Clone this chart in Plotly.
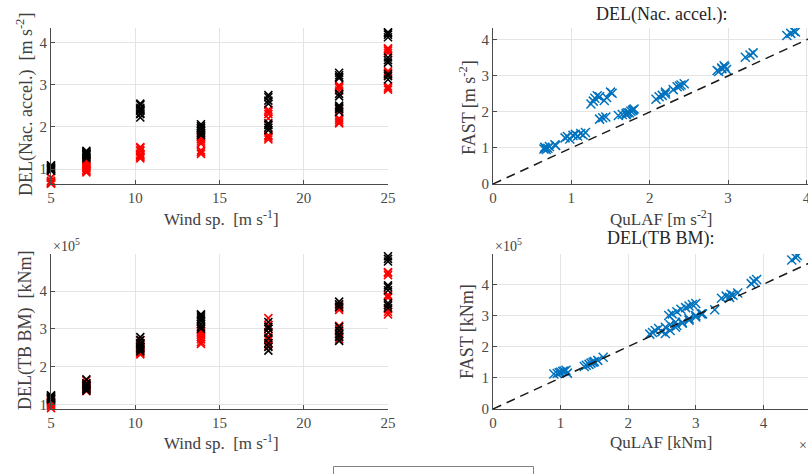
import plotly.graph_objects as go

# ---------------- data ----------------
WIND = [5, 7.1, 10.3, 13.9, 17.9, 22.1, 25]

# DEL of nacelle acceleration [m s^-2], paired samples per wind speed
NAC_FAST = [
    [0.97, 1.00, 0.96, 0.99, 1.02, 1.07, 1.09, 1.04],
    [1.28, 1.32, 1.25, 1.35, 1.38, 1.33, 1.40, 1.36, 1.43],
    [2.22, 2.30, 2.38, 2.45, 2.42, 2.32, 2.40, 2.55, 2.52],
    [1.80, 1.84, 1.86, 1.90, 1.93, 1.96, 1.98, 2.02, 2.06],
    [1.92, 1.98, 2.04, 2.08, 2.55, 2.62, 2.70, 2.75],
    [2.35, 2.42, 2.46, 2.50, 2.72, 2.78, 3.15, 3.22, 3.28, 3.18],
    [3.12, 3.20, 3.25, 3.52, 3.58, 3.64, 4.12, 4.18, 4.24, 4.22],
]
NAC_QULAF = [
    [0.65, 0.67, 0.68, 0.70, 0.66, 0.80, 0.79, 0.72],
    [0.92, 0.95, 0.98, 1.02, 1.05, 1.08, 1.12, 1.15, 1.18],
    [1.25, 1.28, 1.30, 1.33, 1.36, 1.42, 1.45, 1.50, 1.52],
    [1.36, 1.40, 1.44, 1.60, 1.65, 1.70, 1.72, 1.76, 1.79],
    [1.70, 1.74, 1.78, 1.80, 2.20, 2.30, 2.35, 2.40],
    [2.08, 2.12, 2.16, 2.20, 2.38, 2.44, 2.86, 2.92, 2.95, 2.98],
    [2.88, 2.92, 2.96, 3.22, 3.28, 3.32, 3.75, 3.80, 3.84, 3.86],
]

# DEL of tower-base bending moment [x 10^5 kNm]
TB_FAST = [
    [1.12, 1.14, 1.16, 1.18, 1.20, 1.22, 1.24, 1.15],
    [1.36, 1.40, 1.43, 1.47, 1.50, 1.52, 1.56, 1.66],
    [2.40, 2.45, 2.52, 2.58, 2.48, 2.62, 2.70, 2.78],
    [3.00, 3.05, 3.12, 3.20, 3.25, 3.30, 3.35, 3.38],
    [2.42, 2.52, 2.62, 2.75, 2.90, 3.00, 3.05, 3.18],
    [2.68, 2.78, 2.85, 2.95, 3.05, 3.58, 3.65, 3.72],
    [3.55, 3.62, 3.68, 4.02, 4.10, 4.15, 4.78, 4.85, 4.92],
]
TB_QULAF = [
    [0.90, 0.95, 0.98, 1.00, 1.03, 1.05, 1.08, 1.10],
    [1.35, 1.38, 1.42, 1.45, 1.48, 1.50, 1.55, 1.63],
    [2.32, 2.36, 2.40, 2.45, 2.50, 2.55, 2.62, 2.70],
    [2.60, 2.65, 2.72, 2.78, 2.85, 2.90, 2.95, 3.00],
    [2.55, 2.62, 2.70, 2.80, 2.90, 3.00, 3.10, 3.28],
    [2.72, 2.80, 2.90, 3.00, 3.08, 3.50, 3.55, 3.62],
    [3.38, 3.45, 3.52, 3.82, 3.86, 3.90, 4.42, 4.48, 4.50],
]

ONE_TO_ONE = [0, 6]

# ---------------- helpers ----------------
def flat(groups):
    return [v for g in groups for v in g]

def wind_rep(groups):
    return [w for w, g in zip(WIND, groups) for _ in g]

FONT = "Liberation Serif"
AXC = "#4a4a4a"
GRID = "#e4e4e4"
RED = "#ff0000"
BLACK = "#000000"
BLUE = "#0072BD"

def mk(color, size=8, lw=1.6):
    return dict(symbol="x-thin", size=size, color=color,
                line=dict(color=color, width=lw))

fig = go.Figure()

# top-left
fig.add_trace(go.Scatter(x=wind_rep(NAC_QULAF), y=flat(NAC_QULAF), mode="markers",
                         marker=mk(RED), name="QuLAF", legendrank=2,
                         xaxis="x", yaxis="y", cliponaxis=False))
fig.add_trace(go.Scatter(x=wind_rep(NAC_FAST), y=flat(NAC_FAST), mode="markers",
                         marker=mk(BLACK), name="FAST", legendrank=1,
                         xaxis="x", yaxis="y", cliponaxis=False))
# top-right
fig.add_trace(go.Scatter(x=flat(NAC_QULAF), y=flat(NAC_FAST), mode="markers",
                         marker=mk(BLUE, 9, 1.5), showlegend=False,
                         xaxis="x2", yaxis="y2"))
fig.add_trace(go.Scatter(x=ONE_TO_ONE, y=ONE_TO_ONE, mode="lines",
                         line=dict(color="#1a1a1a", width=1.5, dash="9px,6px"),
                         showlegend=False, xaxis="x2", yaxis="y2"))
# bottom-left
fig.add_trace(go.Scatter(x=wind_rep(TB_QULAF), y=flat(TB_QULAF), mode="markers",
                         marker=mk(RED), showlegend=False,
                         xaxis="x3", yaxis="y3", cliponaxis=False))
fig.add_trace(go.Scatter(x=wind_rep(TB_FAST), y=flat(TB_FAST), mode="markers",
                         marker=mk(BLACK), showlegend=False,
                         xaxis="x3", yaxis="y3", cliponaxis=False))
# bottom-right
fig.add_trace(go.Scatter(x=flat(TB_QULAF), y=flat(TB_FAST), mode="markers",
                         marker=mk(BLUE, 9, 1.5), showlegend=False,
                         xaxis="x4", yaxis="y4"))
fig.add_trace(go.Scatter(x=ONE_TO_ONE, y=ONE_TO_ONE, mode="lines",
                         line=dict(color="#1a1a1a", width=1.5, dash="9px,6px"),
                         showlegend=False, xaxis="x4", yaxis="y4"))

W, H = 808, 474
def px_x(p):
    return p / W
def px_y(p):
    return 1 - p / H

def ax(domain, rng, dtick, anchor):
    return dict(domain=domain, range=rng, dtick=dtick, anchor=anchor,
                showline=True, linecolor=AXC, linewidth=1,
                ticks="inside", ticklen=4, tickcolor=AXC,
                showgrid=True, gridcolor=GRID, gridwidth=1,
                zeroline=False, mirror=False, ticklabeloverflow="allow",
                tickfont=dict(family=FONT, size=15, color=AXC))

XL = [px_x(51), px_x(388)]
XR = [px_x(493), 1.0]
YT = [px_y(184), px_y(28)]
YB = [px_y(409), px_y(254)]

fig.update_layout(
    width=W, height=H,
    margin=dict(l=0, r=0, t=0, b=0, autoexpand=False),
    paper_bgcolor="white", plot_bgcolor="white",
    font=dict(family=FONT, color=AXC),
    xaxis=ax(XL, [5, 25], 5, "y"),
    yaxis=ax(YT, [0.645, 4.34], 1, "x"),
    xaxis2=ax(XR, [0, 4.02], 1, "y2"),
    yaxis2=ax(YT, [0, 4.33], 1, "x2"),
    xaxis3=ax(XL, [5, 25], 5, "y3"),
    yaxis3=ax(YB, [0.875, 4.98], 1, "x3"),
    xaxis4=ax(XR, [0, 4.66], 1, "y4"),
    yaxis4=ax(YB, [0, 4.97], 1, "x4"),
    showlegend=True,
    legend=dict(orientation="h", x=px_x(333), xanchor="left",
                y=px_y(466), yanchor="top", itemwidth=45,
                entrywidth=22, entrywidthmode="pixels",
                borderwidth=0, bgcolor="rgba(0,0,0,0)",
                font=dict(family=FONT, size=16, color="#262626")),
    shapes=[dict(type="rect", xref="paper", yref="paper",
                 x0=px_x(333.5), x1=px_x(533.5), y0=px_y(490), y1=px_y(466.5),
                 line=dict(color="#808080", width=1), fillcolor="white",
                 layer="below")],
)

def ann(text, x, y, size=18, angle=0, xanchor="center", color="#404040"):
    fig.add_annotation(text=text, x=px_x(x), y=px_y(y), xref="paper", yref="paper",
                       showarrow=False, textangle=angle, xanchor=xanchor,
                       yanchor="middle",
                       font=dict(family=FONT, size=size, color=color))

# titles
ann("DEL(Nac. accel.):", 661, 15, 18, color="#262626")
ann("DEL(TB BM):", 661, 239, 18, color="#262626")
# x labels
ann("Wind sp.  [m s<sup>-1</sup>]", 221, 218, 17)
ann("QuLAF [m s<sup>-2</sup>]", 661, 218, 17)
ann("Wind sp.  [m s<sup>-1</sup>]", 221, 442, 17)
ann("QuLAF [kNm]", 661, 442, 17)
# y labels
ann("DEL(Nac. accel.)  [m s<sup>-2</sup>]", 25, 105, angle=-90)
ann("FAST [m s<sup>-2</sup>]", 467, 107, angle=-90)
ann("DEL(TB BM)  [kNm]", 25, 331, angle=-90)
ann("FAST [kNm]", 467, 331, angle=-90)
# exponent labels
ann("×10<sup>5</sup>", 51, 245, 14, xanchor="left")
ann("×10<sup>5</sup>", 493, 245, 14, xanchor="left")
ann("×10<sup>5</sup>", 797, 444, 14, xanchor="left")

fig.write_html("out.html")
